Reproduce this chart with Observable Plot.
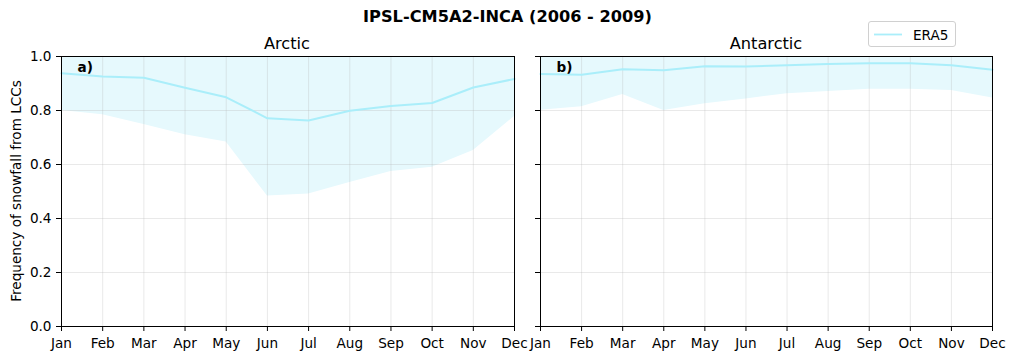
<!DOCTYPE html>
<html>
<head>
<meta charset="utf-8">
<script src="https://cdn.jsdelivr.net/npm/d3@7"></script>
<script src="https://cdn.jsdelivr.net/npm/@observablehq/plot@0.6"></script>
<style>
  body { margin: 0; background: white; font-family: "DejaVu Sans", sans-serif; }
  #wrap { position: relative; width: 1015px; height: 360px; overflow: hidden; }
  .abs { position: absolute; }
  #title { left: 0; width: 1015px; top: 7px; text-align: center; font-weight: bold; font-size: 16.2px; line-height: 20px; }
  .ptitle { font-size: 16.2px; top: 34px; line-height: 20px; transform: translateX(-50%); white-space: nowrap; }
  #ylab { left: 16px; top: 191px; font-size: 13.6px; transform: translate(-50%, -50%) rotate(-90deg); white-space: nowrap; }
  #legend { left: 868px; top: 21px; width: 86px; height: 24px; border: 1px solid #d0d0d0; border-radius: 3px; background: white; }
</style>
</head>
<body>
<div id="wrap">
  <div id="title" class="abs">IPSL-CM5A2-INCA (2006 - 2009)</div>
  <div class="abs ptitle" style="left:287px">Arctic</div>
  <div class="abs ptitle" style="left:766px">Antarctic</div>
  <div id="ylab" class="abs">Frequency of snowfall from LCCs</div>
  <div id="legend" class="abs">
    <svg width="86" height="24" style="position:absolute;left:0;top:0">
      <line x1="5" x2="33" y1="12.5" y2="12.5" stroke="#aaeefa" stroke-width="1.8"></line>
      <text x="44" y="17.5" font-size="13.6" font-family="DejaVu Sans">ERA5</text>
    </svg>
  </div>
</div>
<script>
const months = ["Jan","Feb","Mar","Apr","May","Jun","Jul","Aug","Sep","Oct","Nov","Dec"];
const yTicks = [0, 0.2, 0.4, 0.6, 0.8, 1.0];

const arcticMean = [0.938, 0.926, 0.921, 0.884, 0.849, 0.771, 0.763, 0.799, 0.817, 0.828, 0.885, 0.917];
const arcticLow  = [0.800, 0.784, 0.748, 0.710, 0.683, 0.483, 0.491, 0.533, 0.574, 0.590, 0.652, 0.778];
const arcticHigh = [1.0, 1.0, 1.0, 1.0, 1.0, 1.0, 1.0, 1.0, 1.0, 1.0, 1.0, 1.0];

const antarcticMean = [0.935, 0.932, 0.953, 0.949, 0.964, 0.963, 0.968, 0.972, 0.975, 0.975, 0.968, 0.951];
const antarcticLow  = [0.801, 0.814, 0.859, 0.800, 0.825, 0.843, 0.862, 0.870, 0.879, 0.879, 0.874, 0.846];
const antarcticHigh = [1.0, 1.0, 1.0, 1.0, 1.0, 1.0, 1.0, 1.0, 1.0, 1.0, 1.0, 1.0];

const lineColor = "#aaeefa";
const fillColor = "#e6f9fd";

function panel(mean, low, high, opts) {
  const data = months.map((m, i) => ({i, m, mean: mean[i], low: low[i], high: high[i]}));
  return Plot.plot({
    width: opts.width,
    height: 360,
    marginTop: 56,
    marginBottom: 34,
    marginLeft: opts.marginLeft,
    marginRight: opts.marginRight,
    style: { fontFamily: "DejaVu Sans", fontSize: "13.6px", color: "black", background: "transparent", overflow: "visible" },
    x: { type: "linear", domain: [0, 11] },
    y: { domain: [0, 1] },
    marks: [
      Plot.areaY(data, { x: "i", y1: "low", y2: "high", fill: fillColor, curve: "linear" }),
      Plot.gridX(d3.range(12), { stroke: "#b0b0b0", strokeOpacity: 0.35, strokeWidth: 0.8 }),
      Plot.gridY(yTicks, { stroke: "#b0b0b0", strokeOpacity: 0.35, strokeWidth: 0.8 }),
      Plot.lineY(data, { x: "i", y: "mean", stroke: lineColor, strokeWidth: 2 }),
      Plot.axisX({ ticks: d3.range(12), tickFormat: i => months[i], tickSize: 5, tickPadding: 7, fontSize: 13.6, label: null }),
      Plot.axisY({ ticks: yTicks, tickFormat: opts.showY ? (d => d.toFixed(1)) : (() => ""), tickSize: 5, tickPadding: 5, fontSize: 13.6, label: null }),
      Plot.frame({ stroke: "black", strokeWidth: 1 }),
      Plot.text([opts.tag], { frameAnchor: "top-left", dx: 16, dy: 6, fontWeight: "bold", fontSize: 13.6, textAnchor: "start" })
    ]
  });
}

const wrap = document.getElementById("wrap");
const left = panel(arcticMean, arcticLow, arcticHigh, { width: 520, marginLeft: 61, marginRight: 6, showY: true, tag: "a)" });
left.style.position = "absolute"; left.style.left = "0px"; left.style.top = "0px";
wrap.insertBefore(left, wrap.firstChild);

const right = panel(antarcticMean, antarcticLow, antarcticHigh, { width: 495, marginLeft: 20, marginRight: 23, showY: false, tag: "b)" });
right.style.position = "absolute"; right.style.left = "520px"; right.style.top = "0px";
wrap.insertBefore(right, wrap.firstChild);
</script>
</body>
</html>
